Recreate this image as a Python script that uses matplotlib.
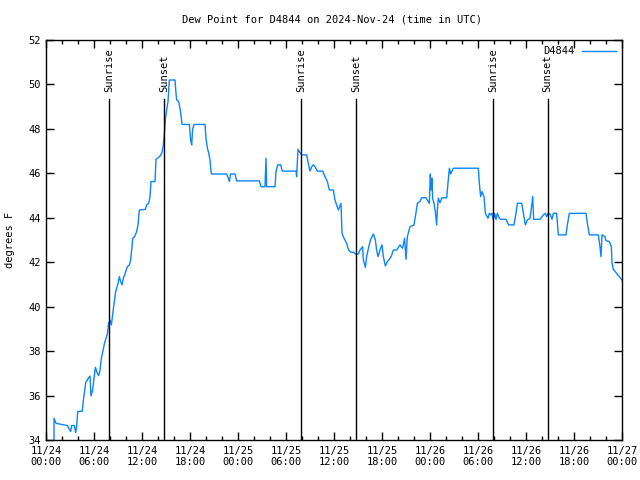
import matplotlib
matplotlib.use("Agg")
import matplotlib.pyplot as plt
import numpy as np

# hours since 2024-11-24 00:00 UTC
hours = [
    1.0, 1.0, 1.25, 2.67, 2.92, 3.08, 3.21, 3.54, 3.71, 3.83, 3.96, 4.54, 4.67, 4.79,
    4.96, 5.29, 5.5, 5.625, 5.83, 6.0, 6.17, 6.42, 6.58, 6.75, 6.92, 7.08, 7.29, 7.46,
    7.67, 7.83, 8.0, 8.17, 8.33, 8.5, 8.67, 8.83, 9.0, 9.17, 9.33, 9.5, 9.67, 9.83,
    10.0, 10.17, 10.42, 10.58, 10.75, 10.83, 11.08, 11.33, 11.5, 11.67, 12.42, 12.58,
    12.83, 13.0, 13.125, 13.625, 13.75, 14.08, 14.25, 14.5, 14.67, 14.83, 14.92, 15.08,
    15.25, 15.42, 16.125, 16.25, 16.33, 16.58, 16.75, 16.92, 17.0, 17.92, 18.08, 18.21,
    18.33, 18.5, 19.875, 20.0, 20.17, 20.33, 20.5, 20.58, 20.67, 22.58, 22.79, 22.92,
    23.08, 23.625, 23.83,
    26.67, 26.875, 27.375, 27.5, 27.58, 28.625, 28.75, 28.96, 29.33, 29.54, 31.25,
    31.33, 31.5, 31.75, 31.96, 32.58, 32.79, 33.0, 33.21, 33.42, 33.625, 33.92, 34.58,
    34.875, 35.17, 35.42, 35.92, 36.125, 36.33, 36.54, 36.875, 37.0, 37.25, 37.58,
    37.83, 38.08, 38.42, 38.67, 39.04, 39.25, 39.58, 39.67, 39.92, 40.08, 40.33, 40.58,
    40.92, 41.17, 41.33, 41.5, 41.75, 42.0, 42.17, 42.42, 42.67, 42.92, 43.17, 43.42,
    43.83, 44.25, 44.58, 44.83, 45.0, 45.17, 45.5, 46.0, 46.25, 46.42, 46.75,
    46.96, 47.5, 47.67, 47.92, 48.04, 48.125, 48.25, 48.33, 48.5, 48.67, 48.83, 48.92,
    49.04, 49.25, 49.5, 50.08, 50.25, 50.42, 50.58, 50.75, 50.92, 54.04, 54.17, 54.33,
    54.5, 54.75, 54.92, 55.25, 55.42, 55.58, 55.75, 55.92, 56.08, 56.25, 56.42, 56.67,
    56.83, 57.5, 57.83, 58.5, 58.75, 58.92, 59.46, 59.67, 59.92, 60.17, 60.5, 60.75,
    60.83, 60.96, 61.75, 62.17, 62.42, 62.58, 62.75, 63.0, 63.25, 63.42, 63.83, 64.04,
    65.0, 65.17, 65.42, 67.5, 67.67, 67.92, 69.04, 69.25, 69.375, 69.5, 69.875, 70.0,
    70.42, 70.67, 70.75, 70.92, 71.33, 71.67, 71.83, 72.0,
]
dewpoint = [
    34.0, 34.98, 34.75, 34.65, 34.48, 34.38, 34.65, 34.65, 34.33, 34.6, 35.28, 35.3, 35.8, 36.1,
    36.58, 36.78, 36.88, 35.98, 36.25, 36.78, 37.27, 37.0, 36.9, 37.12, 37.68, 37.93, 38.32, 38.53,
    38.77, 39.25, 39.4, 39.18, 39.63, 40.08, 40.6, 40.83, 41.05, 41.35, 41.13, 40.98, 41.28, 41.43,
    41.62, 41.8, 41.88, 42.1, 42.7, 43.08, 43.15, 43.38, 43.68, 44.35, 44.38, 44.58,
    44.65, 44.95, 45.63, 45.63, 46.63, 46.72, 46.78, 46.93, 47.28, 47.95, 48.43, 48.85,
    49.23, 50.2, 50.2, 49.6, 49.3, 49.23, 48.93, 48.48, 48.2, 48.2, 47.5, 47.28,
    47.98, 48.2, 48.2, 47.58, 47.13, 46.93, 46.6, 46.23, 45.97, 45.97, 45.78, 45.63,
    45.97, 45.97, 45.66,
    45.66, 45.4, 45.4, 46.68, 45.4, 45.4, 46.08, 46.38, 46.38, 46.1, 46.1,
    45.85, 47.08, 46.93, 46.83, 46.83, 46.45, 46.1, 46.3, 46.38, 46.3, 46.1, 46.1,
    45.85, 45.63, 45.25, 45.25, 44.8, 44.58, 44.35, 44.65, 43.3, 43.08, 42.85,
    42.55, 42.45, 42.45, 42.37, 42.37, 42.55, 42.7, 42.1, 41.77, 42.25, 42.67, 43.03,
    43.27, 43.0, 42.55, 42.25, 42.55, 42.78, 42.25, 41.83, 42.03, 42.13, 42.28, 42.55,
    42.55, 42.78, 42.63, 43.08, 42.13, 43.15, 43.6, 43.68, 44.23, 44.65, 44.73,
    44.9, 44.9, 44.8, 44.65, 45.97, 45.25, 45.78, 44.88, 44.65, 44.28, 43.68, 44.35,
    44.88, 44.68, 44.9, 44.9, 45.55, 46.23, 45.97, 46.1, 46.23, 46.23, 45.55, 44.95,
    45.18, 44.95, 44.2, 43.98, 44.2, 44.13, 44.2, 43.9, 44.2, 43.93, 44.2, 43.98,
    43.93, 43.93, 43.68, 43.68, 44.2, 44.65, 44.65, 44.2, 43.68, 43.9, 43.98, 44.65,
    44.95, 43.93, 43.93, 44.13, 44.2, 44.05, 44.2, 44.17, 43.93, 44.2, 44.2, 43.23,
    43.23, 43.68, 44.2, 44.2, 43.75, 43.23, 43.23, 42.7, 42.25, 43.23, 43.15, 42.97,
    42.93, 42.7, 41.95, 41.68, 41.5, 41.35, 41.28, 41.2,
]

sun_hours = [7.92, 14.79, 31.92, 38.79, 55.92, 62.7]
sun_labels = ["Sunrise", "Sunset", "Sunrise", "Sunset", "Sunrise", "Sunset"]

xtick_hours = list(range(0, 73, 6))
xtick_labels = ["11/24\n00:00", "11/24\n06:00", "11/24\n12:00", "11/24\n18:00",
                "11/25\n00:00", "11/25\n06:00", "11/25\n12:00", "11/25\n18:00",
                "11/26\n00:00", "11/26\n06:00", "11/26\n12:00", "11/26\n18:00",
                "11/27\n00:00"]

plt.rcParams["font.family"] = "DejaVu Sans Mono"
plt.rcParams["font.size"] = 7.5

fig = plt.figure(figsize=(6.4, 4.8), dpi=100)
ax = fig.add_axes([46 / 640, 40 / 480, 576 / 640, 400 / 480])

ax.plot(hours, dewpoint, color="#0a84ff", lw=1.0, label="D4844")

for h, lab in zip(sun_hours, sun_labels):
    ax.plot([h, h], [34, 49.35], color="black", lw=1.0)
    ax.text(h, 49.68, lab, rotation=90, ha="center", va="bottom", fontsize=7.5)

ax.set_xlim(0, 72)
ax.set_ylim(34, 52)
ax.set_xticks(xtick_hours)
ax.set_xticklabels(xtick_labels)
ax.set_xticks(range(0, 73, 2), minor=True)
ax.set_yticks(range(34, 53, 2))
ax.tick_params(which="both", direction="in", top=True, right=True, width=1)
ax.tick_params(which="major", length=6, pad=4)
ax.tick_params(which="minor", length=3)
for s in ax.spines.values():
    s.set_linewidth(1.0)

fig.text(332 / 640, 1 - 19 / 480, "Dew Point for D4844 on 2024-Nov-24 (time in UTC)",
         ha="center", va="center", fontsize=7.5)
fig.text(10 / 640, 1 - 240 / 480, "degrees F", rotation=90, ha="center", va="center",
         fontsize=7.5)

ax.legend(loc="upper right", frameon=False, markerfirst=False, handlelength=3.2,
          borderaxespad=0.2, handletextpad=0.8, fontsize=7.5)

fig.savefig("out.png", dpi=100)
